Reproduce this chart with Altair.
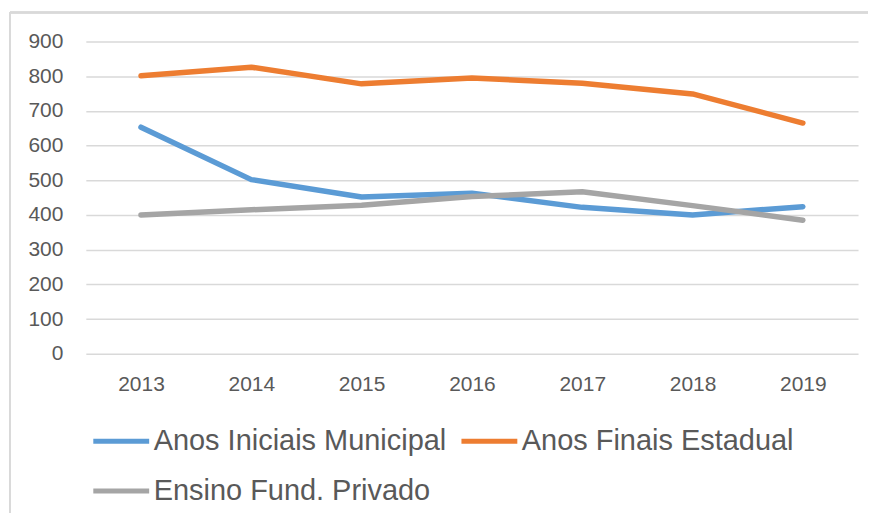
import altair as alt
import pandas as pd

years = ["2013", "2014", "2015", "2016", "2017", "2018", "2019"]
series_names = ["Anos Iniciais Municipal", "Anos Finais Estadual", "Ensino Fund. Privado"]
anos_iniciais_municipal = [653, 502, 452, 463, 422, 400, 424]
anos_finais_estadual = [801, 826, 778, 795, 780, 749, 665]
ensino_fund_privado = [400, 415, 428, 453, 467, 427, 385]
colors = ["#5B9BD5", "#ED7D31", "#A5A5A5"]
y_ticks = [0, 100, 200, 300, 400, 500, 600, 700, 800, 900]

rows = []
for name, vals in zip(series_names, [anos_iniciais_municipal, anos_finais_estadual, ensino_fund_privado]):
    for yr, v in zip(years, vals):
        rows.append({"Ano": yr, "Série": name, "Valor": v})
df = pd.DataFrame(rows)

lines = alt.Chart(df).mark_line(strokeWidth=5.5, strokeCap="round", strokeJoin="round").encode(
    x=alt.X("Ano:O", sort=years,
            scale=alt.Scale(type="point", padding=0.5),
            axis=alt.Axis(title=None, labelAngle=0, ticks=False, domain=False, grid=False,
                          labelPadding=20, labelFontSize=21, labelColor="#595959",
                          labelFont="Liberation Sans")),
    y=alt.Y("Valor:Q",
            scale=alt.Scale(domain=[0, 900], nice=False),
            axis=alt.Axis(title=None, values=y_ticks, ticks=False, domain=False,
                          grid=True, gridColor="#D9D9D9", gridWidth=1.5,
                          labelPadding=23, labelFontSize=21, labelColor="#595959",
                          labelFont="Liberation Sans")),
    color=alt.Color("Série:N",
                    scale=alt.Scale(domain=series_names, range=colors),
                    legend=alt.Legend(title=None, orient="none", legendX=5, legendY=370,
                                      direction="horizontal",
                                      columns=2, symbolType="stroke", symbolSize=3136,
                                      symbolStrokeWidth=5, labelFontSize=29,
                                      labelFont="Liberation Sans", labelColor="#595959",
                                      labelOffset=2, columnPadding=4, rowPadding=4,
                                      labelLimit=400)),
    order=alt.Order("Série:N"),
)

border_left = alt.Chart(df).mark_rule(color="#D9D9D9", strokeWidth=1.5).encode(
    x=alt.value(-76), y=alt.value(-29), y2=alt.value(490))
border_top = alt.Chart(df).mark_rule(color="#D9D9D9", strokeWidth=1.5).encode(
    x=alt.value(-76), x2=alt.value(800), y=alt.value(-29))

chart = alt.layer(border_left, border_top, lines).properties(
    width=774, height=313,
    autosize=alt.AutoSizeParams(type="none"),
    padding={"left": 78, "top": 33, "right": 10, "bottom": 159},
).configure_view(stroke=None)

chart.save("out.html", embed_options={"renderer": "svg", "actions": False})
